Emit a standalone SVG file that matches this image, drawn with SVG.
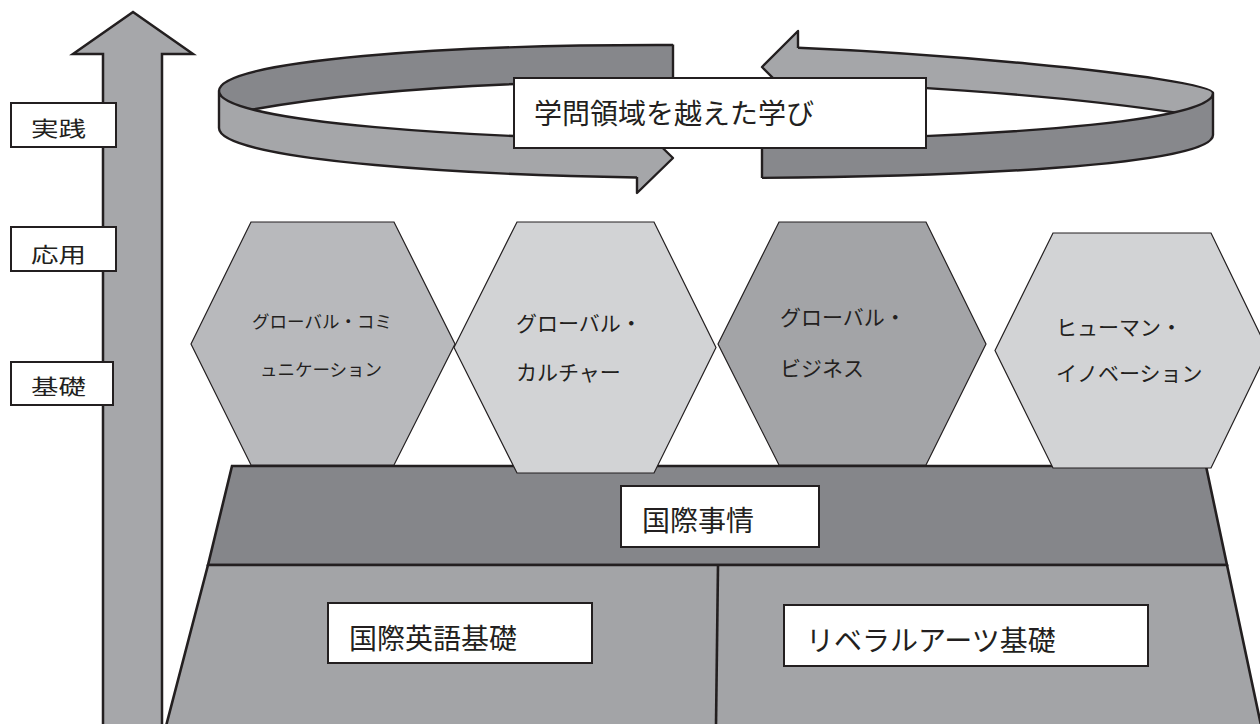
<svg xmlns="http://www.w3.org/2000/svg" width="1260" height="724" viewBox="0 0 1260 724">
<style>
.t{font-family:"Noto Sans CJK JP","Noto Sans CJK SC",sans-serif;fill:#231f20}
.box{fill:#ffffff;stroke:#231f20;stroke-width:2}
.hex{stroke:#231f20;stroke-width:1.2}
.rs{fill:none;stroke:#231f20;stroke-width:2.4;stroke-linejoin:round}
</style>
<defs>
<clipPath id="cbl"><rect x="0" y="0" width="673" height="300"/></clipPath>
<clipPath id="cbr"><rect x="798" y="0" width="462" height="300"/></clipPath>
<clipPath id="cfl"><rect x="0" y="0" width="637" height="300"/></clipPath>
<clipPath id="cfr"><rect x="762" y="0" width="498" height="300"/></clipPath>
</defs>
<rect width="1260" height="724" fill="#ffffff"/>

<g id="vertical-arrow">
<polygon points="103,730 103,54 73,54 133,12 193,54 162,54 162,730" fill="#a6a7aa" stroke="#231f20" stroke-width="2.5" stroke-linejoin="miter"/>
</g>

<g id="label-jissen">
<rect class="box" x="11" y="103" width="105" height="44" stroke-width="1.6"/>
<text class="t" x="31" y="135.5" font-size="21" textLength="55" lengthAdjust="spacingAndGlyphs">実践</text>
</g>
<g id="label-ouyou">
<rect class="box" x="11" y="227" width="105" height="44" stroke-width="1.6"/>
<text class="t" x="31" y="261.5" font-size="21" textLength="55" lengthAdjust="spacingAndGlyphs">応用</text>
</g>
<g id="label-kiso">
<rect class="box" x="11" y="362" width="102" height="43" stroke-width="1.6"/>
<text class="t" x="31" y="394" font-size="21" textLength="55" lengthAdjust="spacingAndGlyphs">基礎</text>
</g>

<g id="ring">
<!-- back wall -->
<g clip-path="url(#cbl)">
<path d="M219,91 C219,60 450,44 680,45 C900,46 1213,78 1213,93 C1213,124 960,140 716,140 C470,140 219,122 219,91 Z" fill="#86878b"/>
<path class="rs" d="M219,91 C219,60 450,44 680,45 C900,46 1213,78 1213,93"/>
</g>
<line x1="673" y1="44.5" x2="673" y2="82" stroke="#231f20" stroke-width="2.4"/>
<g clip-path="url(#cbr)">
<path d="M219,91 C219,60 450,44 680,45 C900,46 1213,78 1213,93 C1213,124 960,140 716,140 C470,140 219,122 219,91 Z" fill="#a5a6a9"/>
<path class="rs" d="M219,91 C219,60 450,44 680,45 C900,46 1213,78 1213,93"/>
</g>
<polygon points="798,31 762,67 798,103" fill="#a5a6a9"/>
<path class="rs" d="M798,48 L798,31 L762,67 L798,103 L798,86"/>
<!-- hole -->
<path d="M250,110 C380,86 560,80 716,81 C880,82 1060,95 1178,113 L1178,150 L250,150 Z" fill="#ffffff"/>
<path class="rs" d="M250,110 C380,86 560,80 716,81 C880,82 1060,95 1178,113"/>
<!-- front wall -->
<g clip-path="url(#cfl)">
<path d="M219,91 C219,122 470,140 716,140 C960,140 1213,124 1213,93 L1213,135 C1213,165 960,178 716,178 C470,178 219,160 219,128 Z" fill="#a5a6a9" stroke="#231f20" stroke-width="2.4" stroke-linejoin="round"/>
</g>
<polygon points="637,123 673,158 637,193" fill="#a5a6a9"/>
<path class="rs" d="M637,139.5 L637,123 L673,158 L637,193 L637,177"/>
<g clip-path="url(#cfr)">
<path d="M219,91 C219,122 470,140 716,140 C960,140 1213,124 1213,93 L1213,135 C1213,165 960,178 716,178 C470,178 219,160 219,128 Z" fill="#87888c" stroke="#231f20" stroke-width="2.4" stroke-linejoin="round"/>
</g>
<line x1="762" y1="139" x2="762" y2="178" stroke="#231f20" stroke-width="2.4"/>
</g>

<g id="node-ring-label">
<rect class="box" x="514" y="78" width="412" height="70"/>
<text class="t" x="534" y="124" font-size="28">学問領域を越えた学び</text>
</g>

<g id="base">
<polygon id="node-kokusai-jijou-band" points="232,466 1206,466 1227,565 208,565" fill="#85868a" stroke="#231f20" stroke-width="2.6" stroke-linejoin="miter"/>
<polygon id="lower-band" points="208,565 1227,565 1262,730 165,730" fill="#a3a4a7" stroke="#231f20" stroke-width="2.6" stroke-linejoin="miter"/>
<line x1="718" y1="565" x2="716" y2="726" stroke="#231f20" stroke-width="2.6"/>
</g>

<g id="hex-communication">
<polygon class="hex" points="191,344 251,222 394,222 455,344 394,465 251,465" fill="#b8b9bc"/>
<text class="t" x="322" y="327.5" font-size="17.5" text-anchor="middle">グローバル・コミ</text>
<text class="t" x="321" y="375.5" font-size="17.5" text-anchor="middle">ュニケーション</text>
</g>
<g id="hex-culture">
<polygon class="hex" points="454,347.5 517,222 654,222 716,347.5 654,473 517,473" fill="#d2d3d5"/>
<text class="t" x="516" y="331" font-size="21">グローバル・</text>
<text class="t" x="516" y="380" font-size="21">カルチャー</text>
</g>
<g id="hex-business">
<polygon class="hex" points="718,344 779,222 926,222 986,344 926,465 779,465" fill="#a3a4a7"/>
<text class="t" x="780" y="325" font-size="21">グローバル・</text>
<text class="t" x="780" y="376" font-size="21">ビジネス</text>
</g>
<g id="hex-innovation">
<polygon class="hex" points="995,350.5 1053,233 1211,233 1268,350.5 1211,468 1053,468" fill="#d2d3d5"/>
<text class="t" x="1056" y="335" font-size="21">ヒューマン・</text>
<text class="t" x="1056" y="381" font-size="21">イノベーション</text>
</g>

<g id="node-kokusai-jijou">
<rect class="box" x="621" y="486" width="198" height="61"/>
<text class="t" x="642" y="531" font-size="28">国際事情</text>
</g>
<g id="node-eigo-kiso">
<rect class="box" x="328" y="603" width="264" height="60"/>
<text class="t" x="349" y="648.5" font-size="28">国際英語基礎</text>
</g>
<g id="node-liberal-arts">
<rect class="box" x="784" y="605" width="364" height="61"/>
<text class="t" x="806" y="651" font-size="28">リベラルアーツ基礎</text>
</g>
</svg>
